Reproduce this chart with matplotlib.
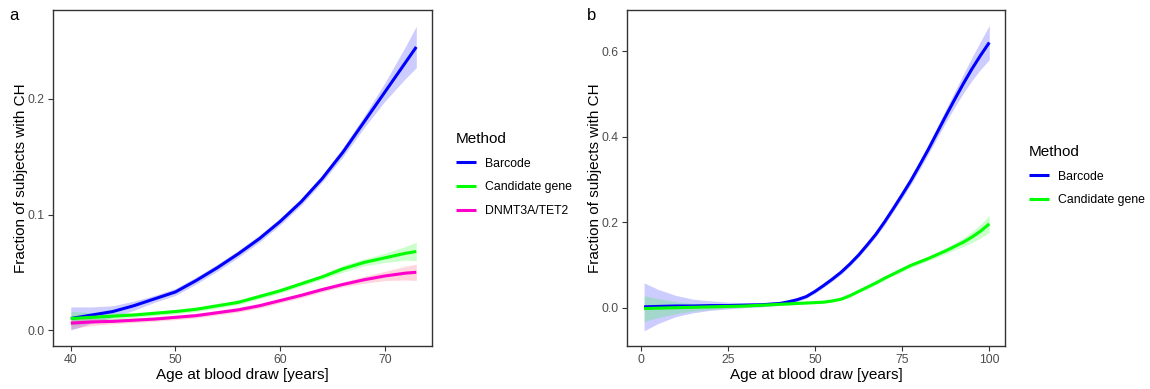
import numpy as np
import matplotlib
matplotlib.use("Agg")
import matplotlib.pyplot as plt

plt.rcParams['font.family'] = ['Liberation Sans', 'DejaVu Sans']

# ---- Panel a data ----
age_a = [40, 42, 44, 46, 48, 50, 52, 54, 56, 58, 60, 62, 64, 66, 68, 70, 72, 73]
barcode_a = [0.010, 0.013, 0.016, 0.021, 0.027, 0.033, 0.043, 0.054, 0.066, 0.079, 0.094, 0.111, 0.131, 0.154, 0.180, 0.206, 0.232, 0.245]
barcode_a_se = [0.010, 0.007, 0.005, 0.004, 0.003, 0.003, 0.003, 0.003, 0.003, 0.003, 0.003, 0.003, 0.003, 0.004, 0.005, 0.008, 0.014, 0.018]
candidate_a = [0.010, 0.011, 0.012, 0.013, 0.0145, 0.016, 0.018, 0.021, 0.024, 0.029, 0.034, 0.040, 0.046, 0.053, 0.0585, 0.0625, 0.0665, 0.068]
candidate_a_se = [0.006, 0.004, 0.003, 0.002, 0.002, 0.002, 0.002, 0.002, 0.002, 0.002, 0.002, 0.002, 0.002, 0.003, 0.003, 0.004, 0.006, 0.008]
dnmt_a = [0.006, 0.007, 0.0075, 0.0085, 0.0095, 0.011, 0.0125, 0.015, 0.0175, 0.021, 0.0255, 0.030, 0.035, 0.0395, 0.0435, 0.0468, 0.0493, 0.050]
dnmt_a_se = [0.005, 0.003, 0.002, 0.002, 0.002, 0.002, 0.002, 0.002, 0.002, 0.002, 0.002, 0.002, 0.002, 0.002, 0.003, 0.004, 0.006, 0.007]

# ---- Panel b data ----
age_b = [1, 5, 10, 15, 20, 25, 30, 35, 40, 42.5, 45, 47.5, 50, 52.5, 55, 57.5, 60, 62.5, 65, 67.5,
         70, 72.5, 75, 77.5, 80, 82.5, 85, 87.5, 90, 92.5, 95, 97.5, 100]
barcode_b = [0.002, 0.003, 0.004, 0.004, 0.005, 0.005, 0.006, 0.007, 0.010, 0.014, 0.019, 0.026, 0.038, 0.052, 0.067, 0.083, 0.102, 0.123, 0.147, 0.172,
             0.201, 0.232, 0.264, 0.297, 0.333, 0.370, 0.409, 0.448, 0.486, 0.523, 0.558, 0.590, 0.620]
barcode_b_se = [0.056, 0.040, 0.025, 0.016, 0.011, 0.008, 0.006, 0.005, 0.004, 0.004, 0.004, 0.004, 0.004, 0.004, 0.005, 0.005, 0.005, 0.005, 0.006, 0.006,
                0.007, 0.007, 0.008, 0.009, 0.010, 0.011, 0.013, 0.015, 0.018, 0.022, 0.027, 0.033, 0.040]
candidate_b = [-0.002, -0.001, 0.000, 0.001, 0.002, 0.003, 0.004, 0.006, 0.008, 0.009, 0.010, 0.011, 0.012, 0.013, 0.016, 0.020, 0.028, 0.038, 0.048, 0.058,
               0.069, 0.079, 0.089, 0.099, 0.107, 0.115, 0.124, 0.133, 0.143, 0.153, 0.165, 0.179, 0.196]
candidate_b_se = [0.030, 0.022, 0.014, 0.009, 0.006, 0.004, 0.003, 0.003, 0.003, 0.003, 0.003, 0.003, 0.003, 0.003, 0.003, 0.003, 0.003, 0.003, 0.004, 0.004,
                  0.004, 0.004, 0.005, 0.005, 0.005, 0.005, 0.006, 0.007, 0.008, 0.010, 0.013, 0.016, 0.020]

xticks_a = [40, 50, 60, 70]
yticks_a = [0.0, 0.1, 0.2]
xticks_b = [0, 25, 50, 75, 100]
yticks_b = [0.0, 0.2, 0.4, 0.6]

BLUE = '#0000FF'
GREEN = '#00FF00'
MAGENTA = '#FF00CC'
PINK_FILL = '#FF3355'

fig = plt.figure(figsize=(11.5, 3.89), dpi=100)
ax_a = fig.add_axes([53/1150, 1-346/389, (432-53)/1150, 336/389])
ax_b = fig.add_axes([627/1150, 1-346/389, (1005-627)/1150, 336/389])

def style(ax):
    for s in ax.spines.values():
        s.set_color('#333333')
        s.set_linewidth(1.0)
    ax.tick_params(axis='both', colors='#333333', labelcolor='#4D4D4D',
                   labelsize=8.8, length=3.5, width=0.8, pad=2.5)
    ax.set_xlabel('Age at blood draw [years]', fontsize=11, color='black', labelpad=1.5)
    ax.set_ylabel('Fraction of subjects with CH', fontsize=11, color='black', labelpad=-0.5)

def band(ax, x, y, se, line_color, fill_color, label):
    x = np.asarray(x); y = np.asarray(y); se = np.asarray(se)
    ax.fill_between(x, y - se, y + se, color=fill_color, alpha=0.2, linewidth=0)
    ax.plot(x, y, color=line_color, lw=2.2, label=label, solid_capstyle='butt',
            solid_joinstyle='round')

band(ax_a, age_a, barcode_a, barcode_a_se, BLUE, BLUE, 'Barcode')
band(ax_a, age_a, candidate_a, candidate_a_se, GREEN, GREEN, 'Candidate gene')
band(ax_a, age_a, dnmt_a, dnmt_a_se, MAGENTA, PINK_FILL, 'DNMT3A/TET2')
ax_a.set_xlim(38.3, 74.5)
ax_a.set_ylim(-0.0138, 0.277)
ax_a.set_xticks(xticks_a)
ax_a.set_yticks(yticks_a)
ax_a.set_yticklabels(['%.1f' % v for v in yticks_a])
style(ax_a)

band(ax_b, age_b, barcode_b, barcode_b_se, BLUE, BLUE, 'Barcode')
band(ax_b, age_b, candidate_b, candidate_b_se, GREEN, GREEN, 'Candidate gene')
ax_b.set_xlim(-3.9, 104.5)
ax_b.set_ylim(-0.0895, 0.696)
ax_b.set_xticks(xticks_b)
ax_b.set_yticks(yticks_b)
ax_b.set_yticklabels(['%.1f' % v for v in yticks_b])
style(ax_b)

def legend(ax, x_px, y_px):
    handles, labels = ax.get_legend_handles_labels()
    leg = ax.legend(handles, labels, title='Method', loc='upper left',
                    bbox_to_anchor=(x_px/1150, 1 - y_px/389), bbox_transform=fig.transFigure,
                    frameon=False, fontsize=8.8, title_fontsize=11,
                    handlelength=1.6, handletextpad=0.75, labelspacing=0.95,
                    borderaxespad=0, borderpad=0)
    leg._legend_box.align = 'left'
    for l in leg.get_lines():
        l.set_linewidth(2.2)

legend(ax_a, 456, 132)
legend(ax_b, 1029, 145)

fig.text(14/1150, 1-15/389, 'a', fontsize=12, ha='center', va='center')
fig.text(592/1150, 1-15/389, 'b', fontsize=12, ha='center', va='center')

fig.savefig('out.png', dpi=100, facecolor='white')
